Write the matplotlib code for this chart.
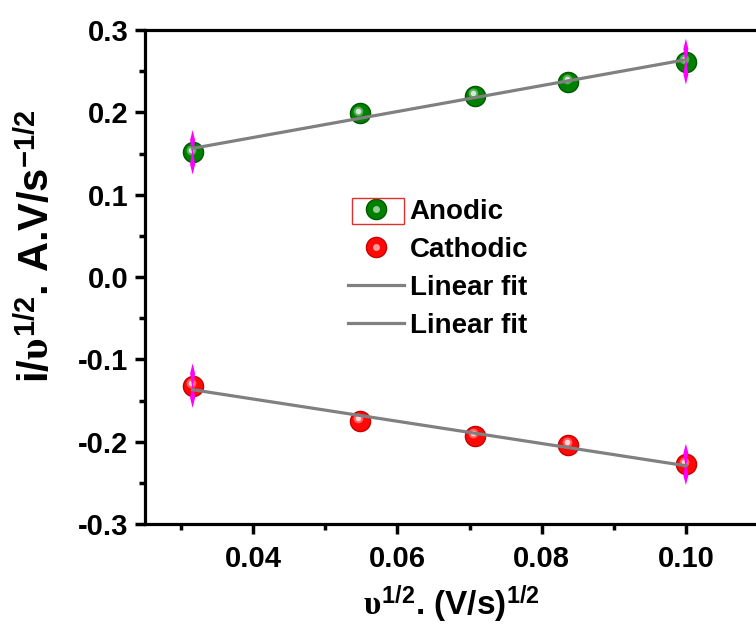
import numpy as np
import matplotlib
matplotlib.use("Agg")
import matplotlib.pyplot as plt
import matplotlib.transforms as mtransforms
from matplotlib.lines import Line2D
from matplotlib.legend_handler import HandlerTuple
from matplotlib.patches import Rectangle

plt.rcParams['font.family'] = ['Liberation Sans', 'DejaVu Sans']
plt.rcParams['font.weight'] = 'bold'
plt.rcParams['mathtext.fontset'] = 'custom'
plt.rcParams['mathtext.rm'] = 'Liberation Sans:bold'
plt.rcParams['mathtext.bf'] = 'Liberation Sans:bold'
plt.rcParams['mathtext.it'] = 'Liberation Serif'

# square root of scan rate, (V/s)^1/2
scan_sqrt = [0.0316, 0.0548, 0.0707, 0.0837, 0.1000]
# peak current / sqrt(scan rate)
anodic = [0.1515, 0.199, 0.220, 0.237, 0.2616]
cathodic = [-0.132, -0.1746, -0.193, -0.204, -0.2276]
# error bars only shown on the end points
anodic_err = [0.027, 0.0, 0.0, 0.0, 0.028]
cathodic_err = [0.027, 0.0, 0.0, 0.0, 0.025]

x_ticks = [0.04, 0.06, 0.08, 0.10]
y_ticks = [-0.3, -0.2, -0.1, 0.0, 0.1, 0.2, 0.3]

W, H = 756, 632
fig = plt.figure(figsize=(W / 100, H / 100), dpi=100)
ax = fig.add_axes([145 / W, 108 / H, 613 / W, 494 / H])
ax.set_xlim(0.025, 0.11)
ax.set_ylim(-0.3, 0.3)

x = np.array(scan_sqrt)
hl = mtransforms.offset_copy(ax.transData, fig=fig, x=-1.5, y=2.5, units='dots')
px = 0.085 / 613  # one pixel in x data units

series = [(anodic, anodic_err, '#008000', '#005800'),
          (cathodic, cathodic_err, '#ff0808', '#c80000')]
handles = []
for vals, err, col, edge in series:
    y = np.array(vals)
    e = np.array(err)
    ax.plot(x, y, 'o', ms=14.5, color=col, mec=edge, mew=1, zorder=3)
    ax.plot(x, y, 'o', ms=7, color='white', alpha=0.35, mew=0,
            transform=hl, zorder=4)
    ax.plot(x, y, 'o', ms=4, color='white', alpha=0.75, mew=0,
            transform=hl, zorder=4)
    # spiky error bars
    for xi, yi, ei in zip(x, y, e):
        if ei == 0:
            continue
        ax.fill([xi, xi + 2.5 * px, xi + 0.7 * px, xi + 2.5 * px, xi,
                 xi - 2.5 * px, xi - 0.7 * px, xi - 2.5 * px],
                [yi + ei, yi + 0.55 * ei, yi, yi - 0.55 * ei, yi - ei,
                 yi - 0.55 * ei, yi, yi + 0.55 * ei],
                color='#ff00ff', lw=0, zorder=5)
    k, b = np.polyfit(x, y, 1)
    ax.plot(x[[0, -1]], k * x[[0, -1]] + b, color='#808080', lw=2.3, zorder=6)
    h_main = Line2D([], [], ls='none', marker='o', ms=14.5, color=col, mec=edge, mew=1)
    h_hl = Line2D([], [], ls='none', marker='o', ms=5, color='white', alpha=0.6, mew=0)
    handles.append((h_main, h_hl))

fit_h = Line2D([], [], color='#808080', lw=2.3)
leg = ax.legend(handles + [fit_h, fit_h],
                ['Anodic', 'Cathodic', 'Linear fit', 'Linear fit'],
                handler_map={tuple: HandlerTuple(ndivide=1)},
                loc='upper left', bbox_to_anchor=(348 / W, 1 - 199 / H),
                bbox_transform=fig.transFigure, frameon=False,
                prop={'size': 20, 'weight': 'bold'}, borderpad=0,
                borderaxespad=0, handlelength=2.0, handletextpad=0.22,
                labelspacing=0.43)

fig.add_artist(Rectangle((352 / W, 1 - 224 / H), 52 / W, 26 / H,
                         transform=fig.transFigure, fill=False,
                         edgecolor='#e03030', lw=1))

ax.set_xticks(x_ticks)
ax.set_xticklabels(['%.2f' % v for v in x_ticks])
ax.set_yticks(y_ticks)
ax.set_yticklabels(['%.1f' % v for v in y_ticks])
ax.set_xticks([0.03, 0.05, 0.07, 0.09, 0.11], minor=True)
ax.set_yticks([-0.25, -0.15, -0.05, 0.05, 0.15, 0.25], minor=True)
ax.tick_params(which='major', direction='out', length=7, width=2.5,
               labelsize=21, pad=5)
ax.tick_params(axis='x', which='major', pad=8)
ax.tick_params(which='minor', direction='out', length=4, width=2.5)
for lab in ax.get_xticklabels() + ax.get_yticklabels():
    lab.set_fontweight('bold')
for sp in ax.spines.values():
    sp.set_linewidth(2.3)

ax.set_xlabel(r'$υ^{1/2}$. (V/s)$^{1/2}$', fontsize=24, fontweight='bold',
              labelpad=8)
ax.set_ylabel(r'i/$υ^{1/2}$. A.V/s$^{-1/2}$', fontsize=30, fontweight='bold')
ax.yaxis.set_label_coords(-0.142, 0.563)

fig.savefig('out.png', dpi=100)
